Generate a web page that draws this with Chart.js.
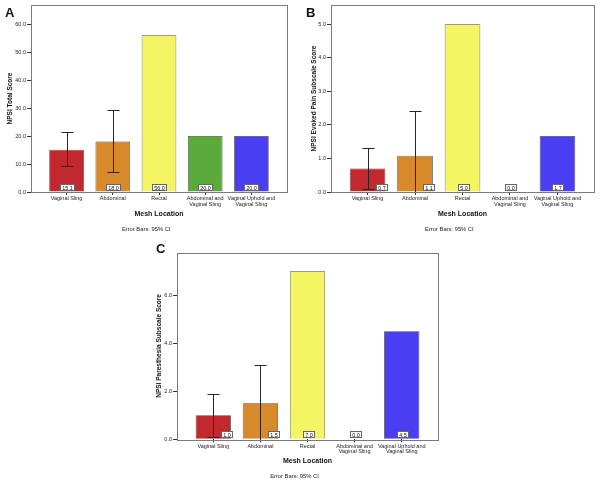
<!DOCTYPE html>
<html>
<head>
<meta charset="utf-8">
<script src="https://cdn.jsdelivr.net/npm/chart.js@4/dist/chart.umd.min.js"></script>
<style>
  body { margin: 0; background: #fff; }
  #page { position: relative; width: 600px; height: 482px; }
  .panel { position: absolute; }
</style>
</head>
<body>
<div id="page">
  <canvas id="chartA" class="panel" style="left:0;top:0" width="300" height="240"></canvas>
  <canvas id="chartB" class="panel" style="left:300px;top:0" width="300" height="240"></canvas>
  <canvas id="chartC" class="panel" style="left:140px;top:230px" width="330" height="252"></canvas>
</div>
<script>
// mesh location categories, shared by all three panels
const locations = ["Vaginal Sling", "Abdominal", "Rectal", ["Abdominal and", "Vaginal Sling"], ["Vaginal Uphold and", "Vaginal Sling"]];
const barColors = ["#c4282f", "#d88a2a", "#f5f564", "#5aaa3c", "#4a3ef2"];

// A - NPSI total score
const totalScore = [15.1, 18.0, 56.0, 20.0, 20.0];
const totalCiLow = [9.3, 7.0, null, null, null];
const totalCiHigh = [21.3, 29.2, null, null, null];
const totalTicks = [0, 10, 20, 30, 40, 50, 60];

// B - evoked pain subscale
const evokedScore = [0.7, 1.08, 5.0, 0.0, 1.67];
const evokedCiLow = [0.09, -0.25, null, null, null];
const evokedCiHigh = [1.3, 2.41, null, null, null];
const evokedTicks = [0, 1, 2, 3, 4, 5];

// C - paresthesia subscale
const paresScore = [1.0, 1.5, 7.0, 0.0, 4.5];
const paresCiLow = [0.08, -0.08, null, null, null];
const paresCiHigh = [1.89, 3.08, null, null, null];
const paresTicks = [0, 2, 4, 6];

const FAMILY = '"Liberation Sans", Arial, sans-serif';

// error bars, value boxes, frame, panel letter
function spssPlugin(cfg) {
  return {
    id: "spss" + cfg.letter,
    afterDatasetsDraw(chart) {
      const ctx = chart.ctx;
      const area = chart.chartArea;
      const y = chart.scales.y;
      const bars = chart.getDatasetMeta(0).data;
      const capHalf = 6;
      ctx.save();
      ctx.beginPath();
      ctx.rect(area.left, area.top, area.right - area.left, area.bottom - area.top);
      ctx.clip();
      ctx.strokeStyle = "#2b2222";
      ctx.lineWidth = 1;
      bars.forEach((bar, i) => {
        if (cfg.ciLow[i] == null) return;
        const x = Math.round(bar.x) + 0.5;
        const yl = Math.round(y.getPixelForValue(cfg.ciLow[i])) + 0.5;
        const yh = Math.round(y.getPixelForValue(cfg.ciHigh[i])) + 0.5;
        ctx.beginPath();
        ctx.moveTo(x, yl); ctx.lineTo(x, yh);
        ctx.moveTo(x - capHalf, yh); ctx.lineTo(x + capHalf, yh);
        ctx.moveTo(x - capHalf, yl); ctx.lineTo(x + capHalf, yl);
        ctx.stroke();
      });
      ctx.restore();

      ctx.save();
      ctx.font = "5.5px " + FAMILY;
      ctx.textAlign = "center";
      ctx.textBaseline = "middle";
      bars.forEach((bar, i) => {
        const txt = cfg.values[i].toFixed(1);
        const w = Math.ceil(ctx.measureText(txt).width) + 3;
        const h = 6;
        const bottom = Math.round(area.bottom) - 2;
        const top = bottom - h;
        let cx = Math.round(bar.x);
        if (cfg.ciLow[i] != null && y.getPixelForValue(cfg.ciLow[i]) > top) cx += capHalf + Math.round(w / 2) + 1;
        const left = Math.round(cx - w / 2) + 0.5;
        ctx.fillStyle = "#fff";
        ctx.fillRect(left, top + 0.5, w, h);
        ctx.strokeStyle = "#666";
        ctx.lineWidth = 1;
        ctx.strokeRect(left, top + 0.5, w, h);
        ctx.fillStyle = "#111";
        ctx.fillText(txt, left + w / 2, top + h / 2 + 1);
      });
      ctx.restore();
    },
    afterDraw(chart) {
      const ctx = chart.ctx;
      const area = chart.chartArea;
      ctx.save();
      ctx.strokeStyle = "#7a7a7a";
      ctx.lineWidth = 1;
      ctx.strokeRect(Math.round(area.left) + 0.5, Math.round(area.top) + 0.5,
        Math.round(area.right - area.left), Math.round(area.bottom - area.top));
      ctx.fillStyle = "#111";
      ctx.font = "bold 13px " + FAMILY;
      ctx.textAlign = "left";
      ctx.textBaseline = "alphabetic";
      ctx.fillText(cfg.letter, cfg.letterPos[0], cfg.letterPos[1]);
      ctx.fillStyle = "#222";
      ctx.font = "5.8px " + FAMILY;
      ctx.textAlign = "center";
      ctx.textBaseline = "middle";
      ctx.fillText("Error Bars: 95% CI", area.left + (area.right - area.left) * 0.45, area.bottom + 37);
      ctx.restore();
    }
  };
}

function makeChart(id, cfg) {
  const n = cfg.values.length;
  const xTitleSize = 7, yTitleSize = 6.5;
  return new Chart(document.getElementById(id), {
    type: "bar",
    data: {
      datasets: [{
        data: cfg.values.map((v, i) => ({ x: i, y: v })),
        backgroundColor: barColors,
        borderColor: "#4a4a4a",
        borderWidth: 0.8,
        barPercentage: 0.75,
        categoryPercentage: 1
      }]
    },
    options: {
      responsive: false,
      animation: false,
      layout: { padding: cfg.pad },
      plugins: { legend: { display: false }, tooltip: { enabled: false } },
      scales: {
        x: {
          type: "linear",
          offset: false,
          bounds: "data",
          min: -0.77,
          max: n - 1 + 0.77,
          afterBuildTicks: s => { s.ticks = locations.map((_, i) => ({ value: i })); },
          afterFit: s => { s.height = cfg.xHeight; },
          grid: { display: true, offset: false, drawOnChartArea: false, tickLength: 3, color: "#333" },
          border: { display: false },
          ticks: {
            callback: v => locations[v],
            font: { size: 5.5, family: FAMILY, lineHeight: 1.0 },
            color: "#222",
            padding: 1,
            maxRotation: 0,
            autoSkip: false
          },
          title: {
            display: true,
            text: "Mesh Location",
            color: "#111",
            font: { size: xTitleSize, weight: "bold", family: FAMILY, lineHeight: 1.2 },
            padding: { top: 0, bottom: cfg.xHeight - 22 - xTitleSize * 0.6 }
          }
        },
        y: {
          min: 0,
          max: cfg.yMax,
          afterBuildTicks: s => { s.ticks = cfg.ticks.map(v => ({ value: v })); },
          afterFit: s => { s.width = cfg.yWidth; },
          grid: { display: true, drawOnChartArea: false, tickLength: 4, color: "#333" },
          border: { display: false },
          ticks: {
            callback: v => v.toFixed(1),
            font: { size: 5.5, family: FAMILY },
            color: "#222",
            padding: 1
          },
          title: {
            display: true,
            text: cfg.yTitle,
            color: "#111",
            font: { size: yTitleSize, weight: "bold", family: FAMILY, lineHeight: 1.2 },
            padding: { top: cfg.yTitleX - yTitleSize * 0.6, bottom: 0 }
          }
        }
      }
    },
    plugins: [spssPlugin(cfg)]
  });
}

makeChart("chartA", {
  letter: "A", letterPos: [5, 17],
  values: totalScore, ciLow: totalCiLow, ciHigh: totalCiHigh, ticks: totalTicks,
  yMax: 66.8, yTitle: "NPSI Total Score", yTitleX: 10,
  pad: { left: 0, top: 5, right: 13, bottom: 0 }, yWidth: 31, xHeight: 48
});

makeChart("chartB", {
  letter: "B", letterPos: [6, 17],
  values: evokedScore, ciLow: evokedCiLow, ciHigh: evokedCiHigh, ticks: evokedTicks,
  yMax: 5.57, yTitle: "NPSI Evoked Pain Subscale Score", yTitleX: 14,
  pad: { left: 0, top: 5, right: 6, bottom: 0 }, yWidth: 31, xHeight: 48
});

makeChart("chartC", {
  letter: "C", letterPos: [16, 23],
  values: paresScore, ciLow: paresCiLow, ciHigh: paresCiHigh, ticks: paresTicks,
  yMax: 7.78, yTitle: "NPSI Paresthesia Subscale Score", yTitleX: 19,
  pad: { left: 0, top: 22.5, right: 32, bottom: 0 }, yWidth: 37, xHeight: 42.7
});
</script>
</body>
</html>
